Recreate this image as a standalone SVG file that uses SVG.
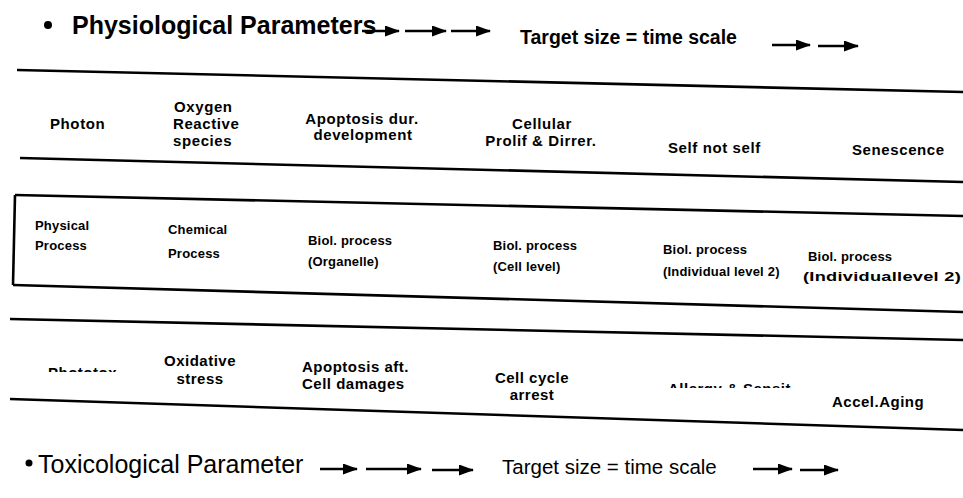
<svg xmlns="http://www.w3.org/2000/svg" width="963" height="498" viewBox="0 0 963 498">
<defs>
<marker id="ah" markerWidth="15" markerHeight="11" refX="14" refY="5.5" orient="auto" markerUnits="userSpaceOnUse">
<path d="M0,0 L15,5.5 L0,11 Z" fill="#000"/>
</marker>
<clipPath id="c1"><rect x="30" y="300" width="120" height="72"/></clipPath>
<clipPath id="c2"><rect x="650" y="300" width="150" height="88"/></clipPath>
</defs>
<style>
.t{font-family:"Liberation Sans",Arial,sans-serif;fill:#000}
.h{font-size:25px;font-weight:bold}
.s{font-size:19.5px;font-weight:bold}
.b{font-size:25px}
.sb{font-size:20.5px}
.r1{font-size:15px;font-weight:bold;letter-spacing:0.6px}
.r2{font-size:13px;font-weight:bold;letter-spacing:0.2px}
.r3{font-size:15px;font-weight:bold;letter-spacing:0.5px}
.ln{stroke:#000;stroke-width:2.6;fill:none}
.ar{stroke:#000;stroke-width:2.4;fill:none;marker-end:url(#ah)}
.m{text-anchor:middle}
</style>
<rect width="963" height="498" fill="#fff"/>
<g id="header">
<circle cx="48" cy="25" r="4"/>
<text class="t h" x="72" y="34">Physiological Parameters</text>
<text class="t s" x="520" y="44">Target size = time scale</text>
</g>
<g id="connectors">
<path class="ar" d="M362,31 L399,31"/>
<path class="ar" d="M405,31 L446,31"/>
<path class="ar" d="M451,31 L490,31"/>
<path class="ar" d="M772,45 L810,45"/>
<path class="ar" d="M818,46 L858,46"/>
<path class="ar" d="M320,469 L357,469"/>
<path class="ar" d="M366,469 L421,469"/>
<path class="ar" d="M432,470 L473,470"/>
<path class="ar" d="M753,469 L792,469"/>
<path class="ar" d="M800,470 L838,470"/>
</g>
<g id="lines">
<path class="ln" d="M17,70 L963,92"/>
<path class="ln" d="M20,158 L963,182"/>
<path class="ln" d="M15,195 L963,216"/>
<path class="ln" d="M15,195 L13,285"/>
<path class="ln" d="M13,285 L963,312"/>
<path class="ln" d="M10,319 L963,340"/>
<path class="ln" d="M10,399 L963,430"/>
</g>
<g id="row1">
<text class="t r1" x="50" y="129">Photon</text>
<text class="t r1" x="174" y="112">Oxygen</text>
<text class="t r1" x="173" y="129">Reactive</text>
<text class="t r1" x="173" y="146">species</text>
<text class="t r1 m" x="362" y="124">Apoptosis dur.</text>
<text class="t r1 m" x="363" y="140">development</text>
<text class="t r1 m" x="542" y="129">Cellular</text>
<text class="t r1 m" x="541" y="146">Prolif &amp; Dirrer.</text>
<text class="t r1" x="668" y="153">Self not self</text>
<text class="t r1" x="852" y="155">Senescence</text>
</g>
<g id="row2">
<text class="t r2" x="35" y="230">Physical</text>
<text class="t r2" x="35" y="250">Process</text>
<text class="t r2" x="168" y="234">Chemical</text>
<text class="t r2" x="168" y="258">Process</text>
<text class="t r2" x="308" y="245">Biol. process</text>
<text class="t r2" x="308" y="266">(Organelle)</text>
<text class="t r2" x="493" y="250">Biol. process</text>
<text class="t r2" x="493" y="271">(Cell level)</text>
<text class="t r2" x="663" y="254">Biol. process</text>
<text class="t r2" x="663" y="276">(Individual level 2)</text>
<text class="t r2" x="808" y="261">Biol. process</text>
<text class="t r2" x="803" y="281" textLength="158" lengthAdjust="spacingAndGlyphs">(Individuallevel 2)</text>
</g>
<g id="row3">
<text class="t r3" x="48" y="378" clip-path="url(#c1)">Phototox</text>
<text class="t r3 m" x="200" y="366">Oxidative</text>
<text class="t r3 m" x="200" y="384">stress</text>
<text class="t r3" x="302" y="372">Apoptosis aft.</text>
<text class="t r3" x="302" y="389">Cell damages</text>
<text class="t r3 m" x="532" y="383">Cell cycle</text>
<text class="t r3 m" x="532" y="400">arrest</text>
<text class="t r3" x="668" y="394" clip-path="url(#c2)">Allergy &amp; Sensit</text>
<text class="t r3" x="832" y="407">Accel.Aging</text>
</g>
<g id="footer">
<circle cx="29" cy="463" r="3.5"/>
<text class="t b" x="38" y="473">Toxicological Parameter</text>
<text class="t sb" x="502" y="474">Target size = time scale</text>
</g>
</svg>
